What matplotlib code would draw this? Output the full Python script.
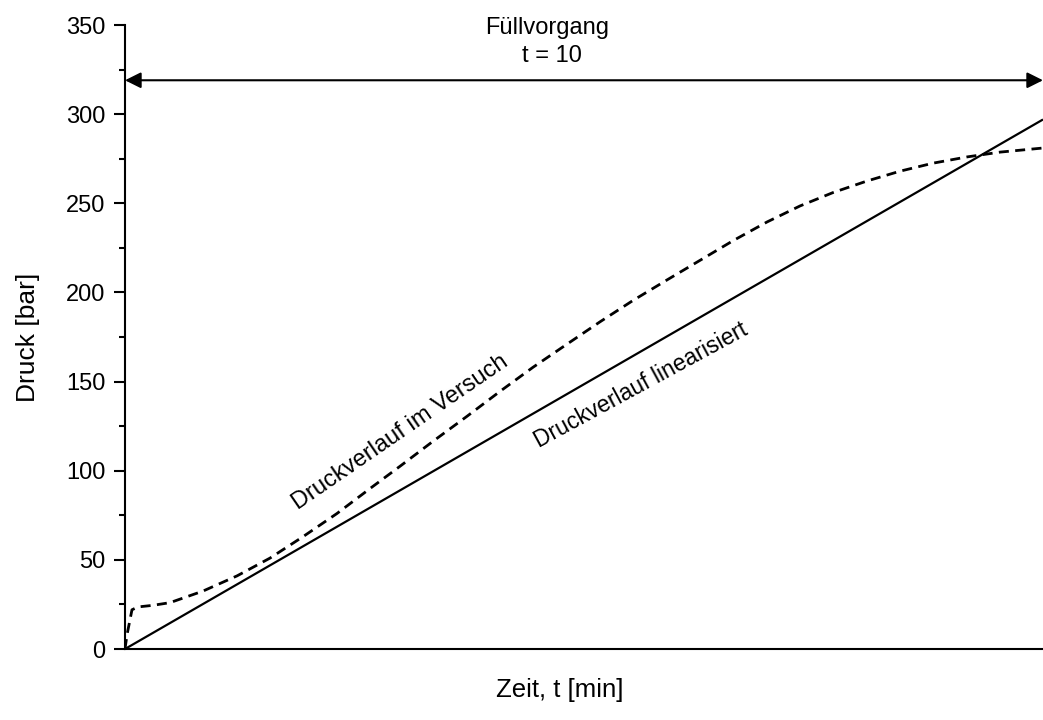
import matplotlib.pyplot as plt
from matplotlib.ticker import MultipleLocator

plt.rcParams['font.family'] = ['Liberation Sans', 'DejaVu Sans']

# Data
t_lin = [0, 10]
p_lin = [0, 297]

t_test = [0.0, 0.022, 0.076, 0.142, 0.305, 0.490, 0.850, 1.220, 1.580, 1.939, 2.309,
          2.669, 2.996, 3.355, 3.725, 4.085, 4.444, 4.815, 5.174, 5.534, 5.904,
          6.264, 6.623, 6.993, 7.353, 7.712, 8.083, 8.442, 8.802, 9.172, 9.532, 10.0]
p_test = [0.0, 8.0, 22.0, 23.6, 24.5, 26.0, 32.5, 41.0, 51.0, 63.0, 76.0,
          90.0, 102.5, 116.5, 130.5, 144.5, 158.0, 171.0, 183.5, 195.5, 207.0,
          218.0, 229.0, 239.5, 248.5, 256.0, 262.5, 268.0, 272.5, 276.0, 278.7, 281.0]

fig = plt.figure(figsize=(10.43, 7.2), dpi=100)
ax = fig.add_axes([125 / 1043, 1 - 649 / 720, 1 - 125 / 1043, (649 - 25) / 720])

ax.plot(t_lin, p_lin, color='black', lw=1.6, solid_capstyle='butt', clip_on=False)
ax.plot(t_test, p_test, color='black', lw=2.0, dashes=(3.6, 2.3))

ax.set_xlim(0, 10)
ax.set_ylim(0, 350)

ax.spines['top'].set_visible(False)
ax.spines['right'].set_visible(False)
ax.spines['left'].set_linewidth(1.5)
ax.spines['bottom'].set_linewidth(1.5)

ax.yaxis.set_major_locator(MultipleLocator(50))
ax.yaxis.set_minor_locator(MultipleLocator(25))
ax.tick_params(axis='y', which='major', direction='out', length=8, width=1.5, labelsize=17, pad=6)
ax.tick_params(axis='y', which='minor', direction='out', length=4, width=1.5)
ax.set_xticks([])

ax.set_ylabel('Druck [bar]', fontsize=19, labelpad=19)
fig.text(560 / 1043, 1 - 690 / 720, 'Zeit, t [min]', fontsize=18.5, ha='center', va='center')

# Fill arrow
ax.annotate('', xy=(0, 319), xytext=(10, 319),
            arrowprops=dict(arrowstyle='<|-|>', color='black', lw=1.5,
                            mutation_scale=24, shrinkA=0, shrinkB=0),
            annotation_clip=False)
ax.text(4.6, 348.5, 'Füllvorgang', fontsize=17, ha='center', va='center')
ax.text(4.65, 332.5, 't = 10', fontsize=17, ha='center', va='center')

# Curve labels
ax.text(3.0, 121.5, 'Druckverlauf im Versuch', fontsize=17, rotation=34.5,
        ha='center', va='center', rotation_mode='anchor')
ax.text(5.62, 148, 'Druckverlauf linearisiert', fontsize=16.5, rotation=28.5,
        ha='center', va='center', rotation_mode='anchor')

plt.savefig('out.png', dpi=100)
